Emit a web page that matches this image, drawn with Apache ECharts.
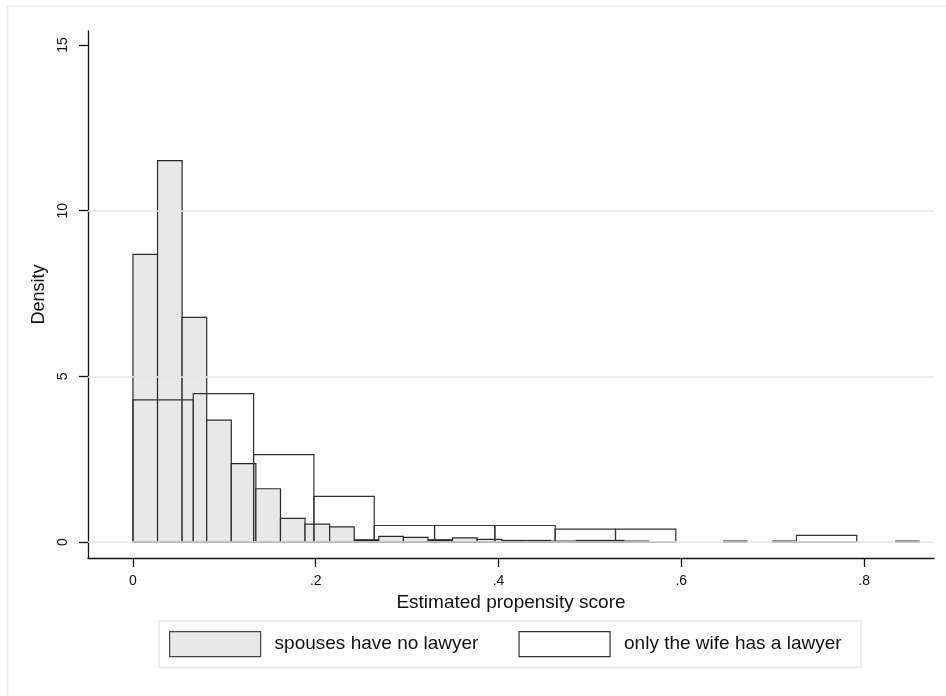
<!DOCTYPE html>
<html>
<head>
<meta charset="utf-8">
<script src="https://cdn.jsdelivr.net/npm/echarts@6/dist/echarts.min.js"></script>
<style>
html,body{margin:0;padding:0;background:#fff;}
#chart{width:946px;height:696px;}
</style>
</head>
<body>
<div id="chart"></div>
<script>
// ---- data ----
const seriesNames = ['spouses have no lawyer', 'only the wife has a lawyer'];
// histogram 1: spouses have no lawyer (bins start at 0)
const noLawyerBinStart = 0;
const noLawyerBinWidth = 0.0269;
const noLawyerDensity = [8.68, 11.51, 6.78, 3.68, 2.37, 1.61, 0.715, 0.54, 0.46, 0.07,
                         0.17, 0.14, 0.07, 0.13, 0.08, 0.05, 0.05, 0.03, 0.05, 0.05,
                         0.03, 0, 0, 0, 0.02, 0, 0.02, 0, 0, 0, 0, 0.02];
// histogram 2: only the wife has a lawyer
const wifeBinStart = 0;
const wifeBinWidth = 0.066;
const wifeDensity = [4.29, 4.48, 2.64, 1.38, 0.50, 0.50, 0.50, 0.39, 0.39, 0, 0, 0.20];
// axes
const xTicks = [0, 0.2, 0.4, 0.6, 0.8];
const yTicks = [0, 5, 10, 15];
const yGrid = [0, 5, 10];
const xRange = [-0.0492, 0.8765];
const yRange = [-0.48, 15.42];

function toBins(start, width, dens) {
  return dens.map((d, i) => [start + i * width, start + (i + 1) * width, d]);
}

function barRenderer(fill, stroke) {
  return function (params, api) {
    const x0 = api.value(0), x1 = api.value(1), h = api.value(2);
    if (!(h > 0)) return;
    const p0 = api.coord([x0, 0]);
    const p1 = api.coord([x1, h]);
    const hpx = p0[1] - p1[1];
    if (hpx < 2.5) {
      // very short bar: outline collapses into a dark line
      return {
        type: 'rect',
        shape: { x: p0[0], y: p0[1] - Math.max(hpx, 1) - 0.6, width: p1[0] - p0[0], height: Math.max(hpx, 1) + 1.2 },
        style: { fill: stroke, stroke: 'none' }
      };
    }
    return {
      type: 'rect',
      shape: { x: p0[0], y: p1[1], width: p1[0] - p0[0], height: hpx },
      style: { fill: fill, stroke: stroke, lineWidth: 1.2 }
    };
  };
}

const FONT = '"Liberation Sans", Arial, Helvetica, sans-serif';
const fmtX = v => v === 0 ? '0' : String(v).replace(/^0\./, '.');

const chart = echarts.init(document.getElementById('chart'), null, { renderer: 'canvas' });
chart.setOption({
  animation: false,
  backgroundColor: '#fff',
  textStyle: { fontFamily: FONT, color: '#111' },
  graphic: [{
    type: 'rect',
    shape: { x: 7.5, y: 6.5, width: 1000, height: 1000 },
    style: { fill: 'none', stroke: '#ebebeb', lineWidth: 1.5 },
    silent: true, z: -10
  }],
  grid: { left: 88, top: 31, right: 12, bottom: 138, containLabel: false },
  xAxis: {
    type: 'value', min: xRange[0], max: xRange[1],
    name: 'Estimated propensity score', nameLocation: 'middle', nameGap: 33,
    nameTextStyle: { fontSize: 19, color: '#111', fontFamily: FONT },
    axisLine: { show: true, onZero: false, lineStyle: { color: '#111', width: 1.3 } },
    axisTick: { show: true, length: 9, customValues: xTicks, lineStyle: { color: '#111', width: 1.3 } },
    axisLabel: { customValues: xTicks, formatter: fmtX, fontSize: 14, color: '#111', margin: 16, fontFamily: FONT },
    splitLine: { show: false }
  },
  yAxis: {
    type: 'value', min: yRange[0], max: yRange[1],
    name: 'Density', nameLocation: 'middle', nameGap: 38,
    nameTextStyle: { fontSize: 18, color: '#111', fontFamily: FONT },
    axisLine: { show: true, onZero: false, lineStyle: { color: '#111', width: 1.3 } },
    axisTick: { show: true, length: 9, customValues: yTicks, lineStyle: { color: '#111', width: 1.3 } },
    axisLabel: { customValues: yTicks, rotate: 90, fontSize: 14, color: '#111', margin: 18, fontFamily: FONT },
    splitLine: { show: false }
  },
  legend: {
    left: 159, top: 621,
    orient: 'horizontal',
    padding: [10, 19, 10, 10],
    itemGap: 40,
    itemWidth: 91, itemHeight: 25,
    borderColor: '#e8e8e8', borderWidth: 1.5, backgroundColor: '#fff',
    textStyle: { fontSize: 19, color: '#111', fontFamily: FONT, padding: [0, 0, 0, 9] },
    data: [
      { name: seriesNames[0], icon: 'rect', itemStyle: { color: '#e8e8e8', borderColor: '#444', borderWidth: 1.2 } },
      { name: seriesNames[1], icon: 'rect', itemStyle: { color: '#fff', borderColor: '#333', borderWidth: 1.2 } }
    ]
  },
  series: [
    {
      name: 'grid', type: 'line', data: [], z: 1, silent: true,
      markLine: {
        silent: true, symbol: ['none', 'none'], label: { show: false },
        lineStyle: { color: '#e6e6e6', width: 1.6, type: 'solid' },
        data: yGrid.map(v => ({ yAxis: v }))
      }
    },
    {
      name: seriesNames[0], type: 'custom', z: 2,
      renderItem: barRenderer('#e8e8e8', '#2a2a2a'),
      encode: { x: [0, 1], y: 2 },
      itemStyle: { color: '#e8e8e8', borderColor: '#444' },
      data: toBins(noLawyerBinStart, noLawyerBinWidth, noLawyerDensity)
    },
    {
      name: seriesNames[1], type: 'custom', z: 3,
      renderItem: barRenderer('rgba(0,0,0,0)', '#333'),
      encode: { x: [0, 1], y: 2 },
      itemStyle: { color: '#fff', borderColor: '#333' },
      data: toBins(wifeBinStart, wifeBinWidth, wifeDensity)
    }
  ]
});
</script>
</body>
</html>
